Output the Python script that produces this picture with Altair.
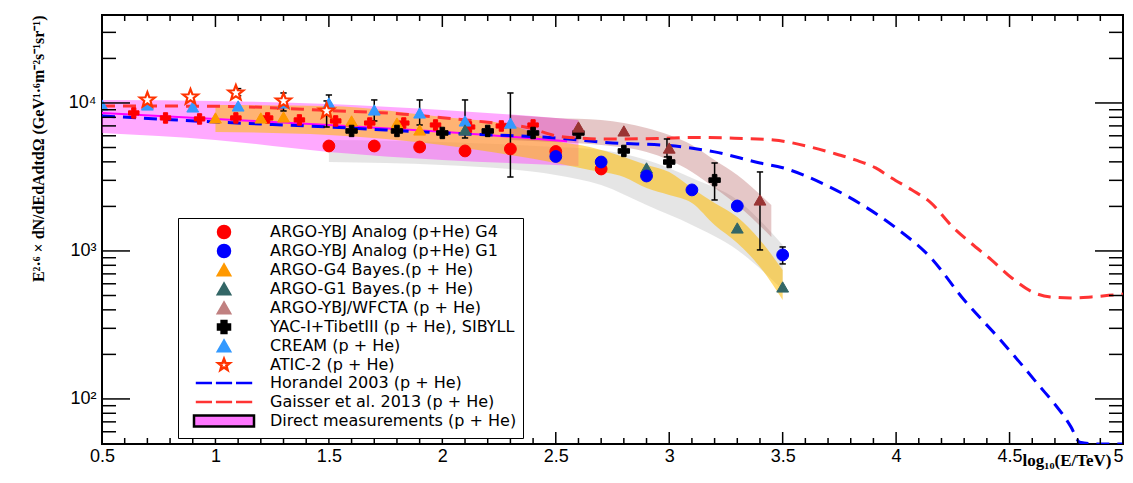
import altair as alt
import pandas as pd

# ---------------- data (x = log10(E/TeV), y = E^2.6 dN/dE) ----------------
g4_analog_x = [1.5, 1.7, 1.9, 2.1, 2.3, 2.5, 2.7]
g4_analog_y = [5120, 5120, 5040, 4740, 4890, 4700, 3580]
g1_analog_x = [2.5, 2.7, 2.9, 3.1, 3.3, 3.5]
g1_analog_y = [4350, 3990, 3210, 2585, 2013, 940]
g4_bayes_x = [1.0, 1.2, 1.3, 1.6, 1.8, 1.9]
g4_bayes_y = [7920, 7920, 8040, 7560, 7320, 6570]
g1_bayes_x = [2.1, 2.9, 3.3, 3.5]
g1_bayes_y = [6570, 3640, 1430, 571]
wfcta_x = [2.6, 2.8, 3.0, 3.4]
wfcta_y = [6880, 6470, 4960, 2210]
yac_x = [1.6, 1.8, 2.0, 2.2, 2.4, 2.6, 2.8, 3.0, 3.2]
yac_y = [6470, 6470, 6270, 6470, 6270, 6270, 4740, 3990, 3010]
cream_x = [0.5, 0.7, 0.9, 1.1, 1.3, 1.5, 1.7, 1.9, 2.1, 2.3]
cream_y = [9690, 9690, 9400, 9545, 10000, 10000, 8970, 8560, 7560, 7320]
atic_x = [0.7, 0.89, 1.09, 1.3, 1.49]
atic_y = [10480, 10980, 11690, 10320, 8830]
direct_pts_x = [0.64, 0.78, 0.93, 1.09, 1.23, 1.37, 1.53, 1.68, 1.83, 1.97, 2.12, 2.26, 2.4]
direct_pts_y = [8560, 7920, 7800, 7920, 7920, 7680, 7560, 7320, 7320, 7100, 6880, 6990, 7100]

err_x = [1.1, 1.3, 1.49, 1.5, 1.7, 1.9, 2.1, 2.3, 2.99, 3.2, 3.4, 3.5]
err_lo = [11200, 8830, 6880, 10000, 7560, 7100, 5800, 3160, 4320, 2210, 1016, 817]
err_hi = [12500, 11680, 10320, 11320, 10480, 10480, 10480, 11680, 5710, 3930, 3418, 1064]

horandel_x = [0.5, 1.0, 1.5, 2.0, 2.5, 2.75, 3.0, 3.2, 3.4, 3.5, 3.69, 3.85, 4.0, 4.15,
              4.3, 4.46, 4.61, 4.77, 4.81, 4.9, 5.0]
horandel_y = [8170, 7440, 6880, 6270, 5800, 5370, 5150, 4670, 3930, 3650, 2790, 2050, 1430, 910,
              466, 250, 134, 65, 51, 30, 25]
gaisser_x = [0.5, 1.0, 1.5, 1.83, 2.0, 2.2, 2.38, 2.5, 2.6, 2.7, 2.95, 3.1, 3.25, 3.46, 3.62,
             3.72, 3.82, 3.91, 3.98, 4.07, 4.15, 4.25, 4.33, 4.42, 4.51, 4.6, 4.68, 4.77, 4.86,
             4.96, 5.0]
gaisser_y = [9540, 9500, 8900, 8400, 7950, 7400, 6800, 6000, 5800, 5700, 5750, 5850, 5800, 5620,
             5050, 4590, 4120, 3640, 3110, 2580, 2140, 1450, 1130, 870, 657, 529, 489, 481, 489,
             505, 512]
direct_line_x = [0.5, 1.0, 1.5, 2.0, 2.55]
direct_line_y = [8560, 7800, 7100, 6400, 5500]

band_direct_x = [0.5, 1.0, 1.5, 2.0, 2.5, 2.6]
band_direct_hi = [10478, 10316, 9845, 8970, 7918, 7677]
band_direct_lo = [6271, 5623, 4667, 4119, 3812, 3752]
band_g4_x = [1.0, 1.5, 2.0, 2.3, 2.5, 2.65, 2.8, 2.9, 3.0, 3.1, 3.2, 3.3, 3.4, 3.5]
band_g4_hi = [9694, 9545, 8042, 7101, 5537, 5044, 4317, 3812, 3418, 2666, 2110, 1697, 1187, 744]
band_g4_lo = [6370, 6078, 5203, 4453, 3932, 3526, 3162, 2666, 2390, 2110, 1499, 1133, 780, 467]
band_grey_x = [1.5, 2.0, 2.5, 2.7, 2.9, 3.1, 3.3, 3.5]
band_grey_hi = [5623, 5452, 5044, 4813, 4119, 3113, 2211, 1098]
band_grey_lo = [3994, 3812, 3262, 2792, 2045, 1499, 1016, 545]
band_wf_x = [2.3, 2.5, 2.7, 2.9, 3.0, 3.1, 3.2, 3.3, 3.45]
band_wf_hi = [8297, 7918, 7677, 6778, 6078, 5203, 4119, 3262, 2045]
band_wf_lo = [5623, 5452, 5203, 4667, 4119, 3418, 2666, 2045, 1243]

x_major_ticks = [0.5, 1.0, 1.5, 2.0, 2.5, 3.0, 3.5, 4.0, 4.5, 5.0]
x_minor_ticks = [0.6, 0.7, 0.8, 0.9, 1.1, 1.2, 1.3, 1.4, 1.6, 1.7, 1.8, 1.9, 2.1, 2.2, 2.3, 2.4,
                 2.6, 2.7, 2.8, 2.9, 3.1, 3.2, 3.3, 3.4, 3.6, 3.7, 3.8, 3.9, 4.1, 4.2, 4.3, 4.4,
                 4.6, 4.7, 4.8, 4.9]
y_major_ticks = [100, 1000, 10000]
y_minor_ticks = [60, 70, 80, 90, 200, 300, 400, 500, 600, 700, 800, 900,
                 2000, 3000, 4000, 5000, 6000, 7000, 8000, 9000, 20000, 30000]

legend_names = ["ARGO-YBJ Analog (p+He) G4", "ARGO-YBJ Analog (p+He) G1",
                "ARGO-G4 Bayes.(p + He)", "ARGO-G1 Bayes.(p + He)", "ARGO-YBJ/WFCTA (p + He)",
                "YAC-I+TibetIII (p + He), SIBYLL", "CREAM (p + He)", "ATIC-2 (p + He)",
                "Horandel 2003 (p + He)", "Gaisser et al. 2013 (p + He)",
                "Direct measurements (p + He)"]

# ---------------- styling ----------------
W, H = 1021, 429
STAR = ("M0,-1L0.247,-0.34L0.951,-0.309L0.399,0.13L0.588,0.809L0,0.42L-0.588,0.809"
        "L-0.399,0.13L-0.951,-0.309L-0.247,-0.34Z")
# the trailing moves only widen the symbol's bounds so every legend row has the same height
DASH = "M-4.7,0H-2.0M-1.35,0H1.35M2.0,0H4.7M0,-1M0,1"
BOX = "M-5,-0.9H5V0.9H-5ZM0,-1M0,1"
legend_shapes = ["circle", "circle", "triangle-up", "triangle-up", "triangle-up", "cross",
                 "triangle-up", STAR, DASH, DASH, BOX]
legend_fills = ["#ff0000", "#0000ff", "#ff9900", "#336666", "#c08080", "#000000", "#3399ff",
                "#ffffff", "#ffffff", "#ffffff", "#ff77ff"]
legend_strokes = ["#ff0000", "#0000ff", "#ff9900", "#336666", "#c08080", "#000000", "#3399ff",
                  "#ff3300", "#0000ff", "#ff3333", "#000000"]

xs = alt.Scale(domain=[0.5, 5.0], nice=False, zero=False)
ys = alt.Scale(type="log", domain=[49.6, 39300], nice=False, clamp=True)
xaxis = alt.Axis(values=x_major_ticks, format="~g", grid=False, ticks=False, domain=False,
                 labelFont="Liberation Sans", labelFontSize=18, labelPadding=3,
                 labelColor="black", labelFlush=False, labelOverlap=False,
                 labelAlign={"condition": {"test": "datum.value >= 5", "value": "right"},
                             "value": "center"},
                 title="log\u2081\u2080(E/TeV)", titleFont="Liberation Serif",
                 titleFontWeight="bold", titleFontSize=17, titleColor="black",
                 titleAnchor="end", titleAlign="right", titleX=W - 12, titleY=25,
                 titleBaseline="bottom")
yaxis = alt.Axis(values=y_major_ticks, grid=False, ticks=False, domain=False,
                 labelFont="Liberation Sans", labelFontSize=18, labelPadding=6,
                 labelColor="black",
                 labelExpr="datum.value == 100 ? '10\u00b2' : datum.value == 1000 ? '10\u00b3' : '10\u2074'",
                 title="E\u00b2\u00b7\u2076 \u00d7 dN/dEdAdtd\u03a9 (GeV\u00b9\u00b7\u2076m\u207b\u00b2s\u207b\u00b9sr\u207b\u00b9)",
                 titleFont="Liberation Serif", titleFontWeight="bold", titleFontSize=16,
                 titleColor="black", titleAnchor="end", titlePadding=22)


def X(f):
    return alt.X(f"{f}:Q", scale=xs, axis=xaxis)


def Y(f):
    return alt.Y(f"{f}:Q", scale=ys, axis=yaxis)


def band(x, lo, hi, color, op):
    df = pd.DataFrame({"x": x, "lo": lo, "hi": hi})
    return alt.Chart(df).mark_area(color=color, opacity=op, clip=True,
                                   interpolate="monotone").encode(
        x=X("x"), y=Y("lo"), y2="hi:Q")


def line(x, y, color, width, dash=None):
    df = pd.DataFrame({"x": x, "y": y})
    kw = dict(color=color, strokeWidth=width, clip=True, interpolate="monotone")
    if dash:
        kw["strokeDash"] = dash
    return alt.Chart(df).mark_line(**kw).encode(x=X("x"), y=Y("y"))


def pts(x, y, shape, fill, stroke, size, sw=1.0):
    df = pd.DataFrame({"x": x, "y": y})
    return alt.Chart(df).mark_point(shape=shape, fill=fill, stroke=stroke, size=size,
                                    strokeWidth=sw, filled=True, opacity=1,
                                    clip=True).encode(x=X("x"), y=Y("y"))


layers = [
    band(band_grey_x, band_grey_lo, band_grey_hi, "#a0a0a0", 0.28),
    band(band_direct_x, band_direct_lo, band_direct_hi, "#ff33ff", 0.42),
    band(band_g4_x, band_g4_lo, band_g4_hi, "#ffbb00", 0.55),
    band(band_wf_x, band_wf_lo, band_wf_hi, "#aa4444", 0.3),
    line(direct_line_x, direct_line_y, "#ff00ff", 2),
    line(horandel_x, horandel_y, "#0000ff", 3, [13, 8]),
    line(gaisser_x, gaisser_y, "#ff3333", 3, [13, 8]),
]

err_df = pd.DataFrame({"x": err_x, "lo": err_lo, "hi": err_hi})
layers.append(alt.Chart(err_df).mark_rule(color="black", strokeWidth=1.5).encode(
    x=X("x"), y=Y("lo"), y2="hi:Q"))
layers.append(alt.Chart(err_df).mark_point(shape="stroke", size=40, stroke="black",
                                           strokeWidth=1.5, opacity=1).encode(x=X("x"), y=Y("lo")))
layers.append(alt.Chart(err_df).mark_point(shape="stroke", size=40, stroke="black",
                                           strokeWidth=1.5, opacity=1).encode(x=X("x"), y=Y("hi")))

layers += [
    pts(direct_pts_x, direct_pts_y, "cross", "#ff0000", "#ff0000", 110),
    pts(cream_x, cream_y, "triangle-up", "#3399ff", "#3399ff", 140),
    pts(atic_x, atic_y, STAR, "#ffffff", "#ff3300", 250, 2.2),
    pts(g4_bayes_x, g4_bayes_y, "triangle-up", "#ff9900", "#ff9900", 140),
    pts(yac_x, yac_y, "cross", "#000000", "#000000", 130),
    pts(wfcta_x, wfcta_y, "triangle-up", "#993333", "#993333", 140),
    pts(g1_bayes_x, g1_bayes_y, "triangle-up", "#336666", "#336666", 140),
    pts(g4_analog_x, g4_analog_y, "circle", "#ff0000", "#ff0000", 140),
    pts(g1_analog_x, g1_analog_y, "circle", "#0000ff", "#0000ff", 140),
]

# inward ROOT-style ticks on all four sides
xmaj = pd.DataFrame({"x": x_major_ticks})
xmin = pd.DataFrame({"x": x_minor_ticks})
ymaj = pd.DataFrame({"y": y_major_ticks})
ymin = pd.DataFrame({"y": y_minor_ticks})
for df, ln in ((xmaj, 12), (xmin, 6)):
    layers.append(alt.Chart(df).mark_rule(color="black", strokeWidth=1.5).encode(
        x=X("x"), y=alt.value(H), y2=alt.value(H - ln)))
    layers.append(alt.Chart(df).mark_rule(color="black", strokeWidth=1.5).encode(
        x=X("x"), y=alt.value(0), y2=alt.value(ln)))
for df, ln in ((ymaj, 28), (ymin, 14)):
    layers.append(alt.Chart(df).mark_rule(color="black", strokeWidth=1.5).encode(
        y=Y("y"), x=alt.value(0), x2=alt.value(ln)))
    layers.append(alt.Chart(df).mark_rule(color="black", strokeWidth=1.5).encode(
        y=Y("y"), x=alt.value(W), x2=alt.value(W - ln)))

# legend (drawn by Vega-Lite from a hidden layer)
leg = alt.Legend(orient="none", legendX=76, legendY=203, title=None,
                 labelFont="DejaVu Sans", labelFontSize=16, labelColor="black",
                 labelLimit=500, symbolSize=144, symbolStrokeWidth=2.5,
                 symbolOffset=32, labelOffset=38, padding=6, rowPadding=-4.8,
                 symbolOpacity=1,
                 strokeColor="black", fillColor="white", cornerRadius=0)
leg_df = pd.DataFrame({"series": legend_names})
layers.append(alt.Chart(leg_df).mark_point(filled=True, clip=True, size=144, opacity=1).encode(
    x=alt.value(-60), y=alt.value(-60),
    shape=alt.Shape("series:N", scale=alt.Scale(domain=legend_names, range=legend_shapes),
                    legend=leg),
    fill=alt.Fill("series:N", scale=alt.Scale(domain=legend_names, range=legend_fills),
                  legend=leg),
    stroke=alt.Stroke("series:N", scale=alt.Scale(domain=legend_names, range=legend_strokes),
                      legend=leg),
))

chart = alt.layer(*layers).properties(
    width=W, height=H,
    padding={"left": 94, "top": 7, "right": 2, "bottom": 26},
    autosize=alt.AutoSizeParams(type="none"),
    background="white",
).configure_view(stroke="black", strokeWidth=2)

chart.save("out.html", embed_options={"renderer": "svg", "actions": False})
